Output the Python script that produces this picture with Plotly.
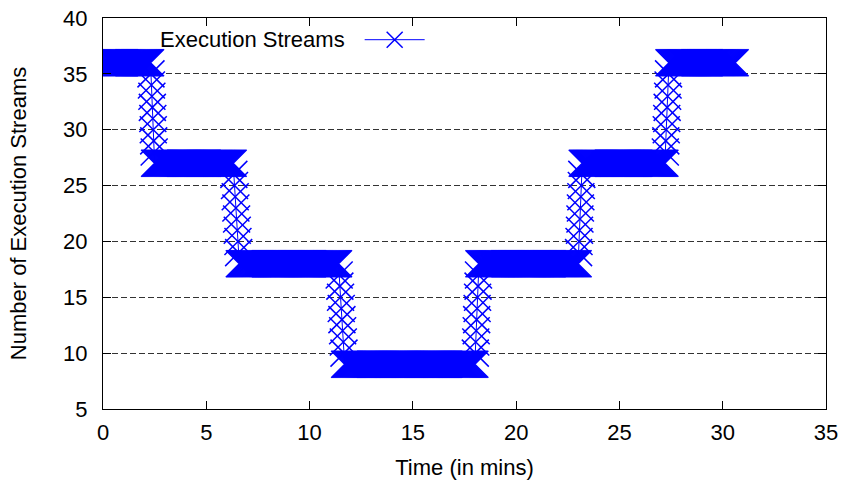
import numpy as np
import plotly.graph_objects as go

# Step levels of the number of execution streams
levels = [36, 27, 18, 9, 18, 27, 36]
level_start = [0.0, 2.5, 6.6, 11.7, 18.2, 23.2, 27.4]   # minutes
level_end = [2.3, 6.3, 11.4, 18.0, 23.0, 27.2, 30.6]    # minutes
sample_step = 0.05  # minutes between samples
x_ticks = [0, 5, 10, 15, 20, 25, 30, 35]
y_ticks = [5, 10, 15, 20, 25, 30, 35, 40]

# Build the sampled series: flat segments plus one-by-one changes between them
t, s = [], []
for i, lvl in enumerate(levels):
    seg = np.arange(level_start[i], level_end[i] + 1e-9, sample_step)
    t.extend(seg.tolist())
    s.extend([lvl] * len(seg))
    if i + 1 < len(levels):
        nxt = levels[i + 1]
        stepdir = 1 if nxt > lvl else -1
        mids = list(range(lvl + stepdir, nxt, stepdir))
        tt = np.linspace(level_end[i], level_start[i + 1], len(mids) + 2)[1:-1]
        t.extend(tt.tolist())
        s.extend(mids)

BLUE = "rgb(0,0,255)"
FONT = "Liberation Sans, Arial, sans-serif"
FS = 22

fig = go.Figure()
fig.add_trace(go.Scatter(
    x=t, y=s, mode="lines+markers", name=" ",
    line=dict(color=BLUE, width=1),
    marker=dict(symbol="x-thin", size=27, color=BLUE,
                line=dict(color=BLUE, width=1.5)),
    showlegend=True,
))

fig.add_annotation(
    text="Execution Streams", xref="paper", yref="paper",
    x=0.338, y=0.944, xanchor="right", yanchor="middle",
    showarrow=False, font=dict(family=FONT, size=FS, color="black"),
)

axis_common = dict(
    showline=True, linecolor="black", linewidth=1, mirror="ticks",
    ticks="inside", ticklen=8, tickcolor="black", tickwidth=1,
    tickfont=dict(family=FONT, size=FS, color="black"),
    zeroline=False, automargin=False,
)

fig.update_xaxes(
    range=[0, 35], tickvals=x_ticks, showgrid=False, ticklabelstandoff=4,
    title=dict(text="Time (in mins)", font=dict(family=FONT, size=FS, color="black"), standoff=16),
    **axis_common,
)
fig.update_yaxes(
    range=[5, 40], tickvals=y_ticks, showgrid=True, ticklabelstandoff=10,
    gridcolor="#333333", gridwidth=1, griddash="6px,3px",
    title=dict(text="Number of Execution Streams", font=dict(family=FONT, size=FS, color="black"), standoff=30),
    **axis_common,
)

fig.update_layout(
    width=842, height=480,
    margin=dict(l=103, r=16, t=18, b=71),
    paper_bgcolor="white", plot_bgcolor="white",
    legend=dict(x=0.355, y=0.944, xanchor="left", yanchor="middle",
                bgcolor="rgba(0,0,0,0)", font=dict(family=FONT, size=FS),
                itemwidth=60),
    font=dict(family=FONT, size=FS, color="black"),
)

fig.write_html("out.html")
